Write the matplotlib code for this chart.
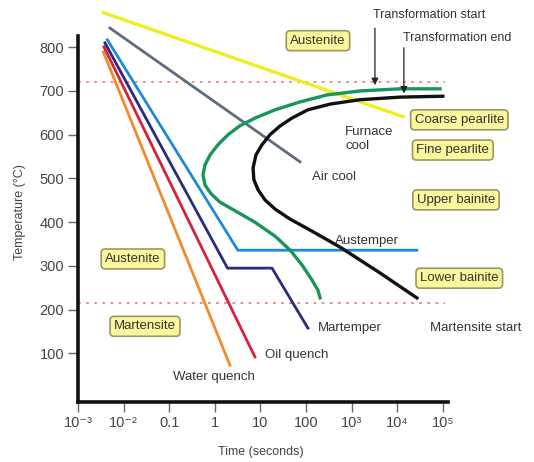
import matplotlib
matplotlib.use("Agg")
import matplotlib.pyplot as plt

plt.rcParams['font.family'] = ['Liberation Sans', 'DejaVu Sans']

# time in seconds, temperature in degC
yellow_t = [0.0036, 13500]
yellow_T = [879, 641]
gray_t = [0.005, 74]
gray_T = [844, 538]
austemper_t = [0.0044, 3.2, 27000]
austemper_T = [817, 336, 336]
martemper_t = [0.0039, 1.9, 18, 110]
martemper_T = [810, 295, 295, 158]
oil_t = [0.0037, 7.6]
oil_T = [801, 92]
water_t = [0.0036, 2.15]
water_T = [789, 73]

# transformation start (green) and end (black) curves
start_t = [87000, 11500, 1500, 290, 74, 21, 7.6, 3.5, 1.95, 1.17, 0.79, 0.61, 0.55,
           0.61, 0.83, 1.29, 2.8, 7.6, 21, 45, 82, 135, 182, 204]
start_T = [705, 705, 700, 691, 675, 657, 638, 620, 600, 577, 554, 531, 508,
           485, 465, 446, 426, 400, 368, 336, 302, 268, 245, 227]
end_t = [100000, 11500, 1500, 336, 110, 49, 27, 16.2, 10.8, 8.0, 6.9, 7.2, 8.9,
         12.6, 21, 45, 123, 560, 4200, 27000]
end_T = [688, 686, 680, 670, 657, 638, 620, 600, 577, 554, 524, 497, 474,
         451, 430, 407, 382, 343, 284, 227]

eutectoid_T = 721
ms_T = 215
dotted_t = [0.001, 112000]

xticks = [1e-3, 1e-2, 0.1, 1, 10, 100, 1e3, 1e4, 1e5]
xtick_labels = ['10⁻³', '10⁻²', '0.1', '1', '10', '100', '10³', '10⁴', '10⁵']
yticks = [100, 200, 300, 400, 500, 600, 700, 800]

boxes = [
    ("Austenite", 183, 815),
    ("Coarse pearlite", 2.3e5, 634),
    ("Fine pearlite", 1.66e5, 565),
    ("Upper bainite", 1.95e5, 451),
    ("Lower bainite", 2.3e5, 272),
    ("Austenite", 0.016, 316),
    ("Martensite", 0.0295, 162),
]
plain = [
    ("Furnace\ncool", 725, 590),
    ("Air cool", 135, 503),
    ("Austemper", 440, 357),
    ("Martemper", 183, 158),
    ("Martensite start", 52000, 158),
    ("Oil quench", 12.6, 96),
    ("Water quench", 0.12, 46),
]

fig = plt.figure(figsize=(5.34, 4.62), dpi=100)
ax = fig.add_axes([78 / 534, 1 - 402 / 462, 1 - 78 / 534, 402 / 462])
ax.set_xscale('log')
ax.set_xlim(1e-3, 1e7)
ax.set_ylim(-11, 908)

ax.plot(dotted_t, [eutectoid_T] * 2, color='#E88585', lw=1.3, linestyle=(0, (1.5, 3)))
ax.plot(dotted_t, [ms_T] * 2, color='#E88585', lw=1.3, linestyle=(0, (1.5, 3)))

ax.plot(yellow_t, yellow_T, color='#EEEE22', lw=2.4)
ax.plot(gray_t, gray_T, color='#5E6C7C', lw=2.0)
ax.plot(water_t, water_T, color='#F08A2A', lw=2.0)
ax.plot(oil_t, oil_T, color='#D8203C', lw=2.0)
ax.plot(martemper_t, martemper_T, color='#2A2A80', lw=2.0)
ax.plot(austemper_t, austemper_T, color='#1E8AD6', lw=2.0)
ax.plot(start_t, start_T, color='#19955A', lw=2.4, solid_joinstyle='round')
ax.plot(end_t, end_T, color='#111111', lw=2.4, solid_joinstyle='round')

ax.annotate('', xy=(3250, 707), xytext=(3250, 850),
            arrowprops=dict(arrowstyle='-|>', color='#222', lw=0.9, mutation_scale=10))
ax.annotate('', xy=(14000, 688), xytext=(14000, 805),
            arrowprops=dict(arrowstyle='-|>', color='#222', lw=0.9, mutation_scale=10))
ax.text(2950, 874, 'Transformation start', fontsize=9, color='#333', ha='left', va='center')
ax.text(13500, 821, 'Transformation end', fontsize=9, color='#333', ha='left', va='center')

for label, t, T in boxes:
    ax.text(t, T, label, fontsize=9.5, color='#333', ha='center', va='center',
            bbox=dict(boxstyle='round,pad=0.3', fc='#FBF79C', ec='#9A9860', lw=1.2))

for label, t, T in plain:
    ax.text(t, T, label, fontsize=9.5, color='#333', ha='left', va='center', linespacing=1.2)

for side in ['top', 'right']:
    ax.spines[side].set_visible(False)
for side in ['left', 'bottom']:
    ax.spines[side].set_linewidth(2.6)
    ax.spines[side].set_color('#111')
ax.spines['left'].set_bounds(-11, 825)
ax.spines['bottom'].set_bounds(1e-3, 10 ** 5.11)

ax.set_xticks(xticks)
ax.set_xticklabels(xtick_labels)
ax.xaxis.set_minor_locator(matplotlib.ticker.NullLocator())
ax.set_yticks(yticks)
ax.tick_params(direction='out', length=7, width=1, color='#666', labelsize=10.5,
               labelcolor='#444', pad=3)

fig.text(20 / 534, 1 - 212 / 462, 'Temperature (°C)', rotation=90, fontsize=9,
         color='#444', ha='center', va='center')
fig.text(261 / 534, 1 - 452 / 462, 'Time (seconds)', fontsize=9,
         color='#444', ha='center', va='center')

fig.savefig('out.png', dpi=100)
